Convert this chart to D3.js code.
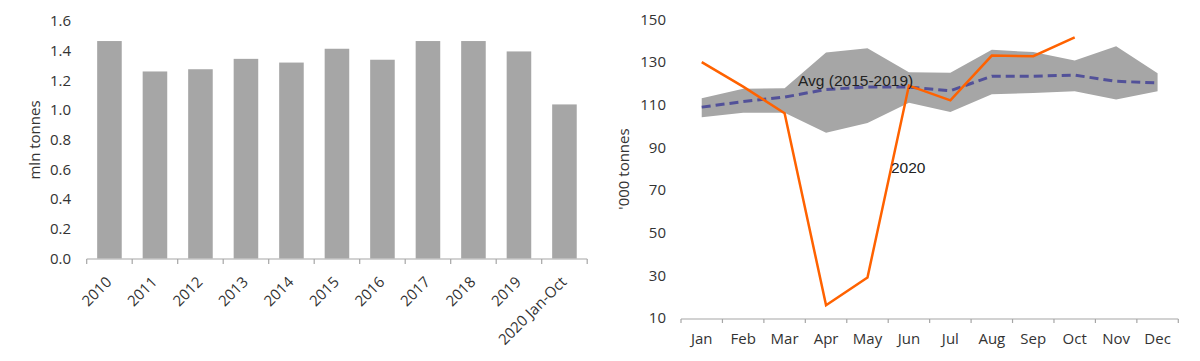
<!DOCTYPE html>
<html>
<head>
<meta charset="utf-8">
<script src="https://cdn.jsdelivr.net/npm/d3@7"></script>
<style>
  html, body { margin: 0; padding: 0; background: #fff; }
  svg { display: block; }
  text { font-family: "Open Sans", Lato, "Noto Sans", sans-serif; fill: #333; }
</style>
</head>
<body>
<svg id="chart" width="1200" height="361"></svg>
<script>
// ---- Left chart data ----
const years = ["2010","2011","2012","2013","2014","2015","2016","2017","2018","2019","2020 Jan-Oct"];
const annualVolumes = [1.465, 1.26, 1.275, 1.345, 1.32, 1.413, 1.339, 1.465, 1.465, 1.395, 1.038];
const leftTicks = [0, 0.2, 0.4, 0.6, 0.8, 1.0, 1.2, 1.4, 1.6];

// ---- Right chart data ----
const months = ["Jan","Feb","Mar","Apr","May","Jun","Jul","Aug","Sep","Oct","Nov","Dec"];
const rangeMax = [113.1, 117.5, 117.8, 134.5, 136.5, 125.3, 125.0, 135.8, 134.7, 130.8, 137.5, 124.8];
const rangeMin = [104.2, 106.3, 106.3, 96.9, 101.4, 111.0, 106.6, 115.0, 115.5, 116.3, 112.5, 116.4];
const avg2015_2019 = [108.9, 111.5, 113.6, 117.2, 118.3, 118.3, 116.6, 123.4, 123.4, 123.9, 121.0, 120.3];
const vol2020 = [130, 118.5, 106, 16, 29, 119, 112.1, 133.1, 132.8, 141.6];
const rightTicks = [10, 30, 50, 70, 90, 110, 130, 150];

const svg = d3.select("#chart");
const axisColor = "#a6a6a6";
const gray = "#a6a6a6";
const fs = "15px";

// ===== Left bar chart =====
const xL = d3.scaleBand().domain(years).range([86.7, 587.2]).paddingInner(0.46).paddingOuter(0.23);
const yL = d3.scaleLinear().domain([0, 1.6]).range([258.5, 21]);

const gL = svg.append("g");
gL.selectAll("rect.bar").data(years).join("rect")
  .attr("class", "bar")
  .attr("x", d => xL(d))
  .attr("width", xL.bandwidth())
  .attr("y", (d, i) => yL(annualVolumes[i]))
  .attr("height", (d, i) => yL(0) - yL(annualVolumes[i]))
  .attr("fill", gray);

gL.selectAll("text.ytick").data(leftTicks).join("text")
  .attr("class", "ytick")
  .attr("x", 71)
  .attr("y", d => yL(d))
  .attr("dy", "0.35em")
  .attr("text-anchor", "end")
  .style("font-size", fs)
  .text(d => d3.format(".1f")(d));

const x0L = xL.range()[0];
const stepEdge = (xL.range()[1] - x0L) / years.length;
gL.append("line")
  .attr("x1", x0L).attr("x2", xL.range()[1])
  .attr("y1", 259).attr("y2", 259)
  .attr("stroke", axisColor).attr("stroke-width", 1.2);
gL.selectAll("line.xt").data(d3.range(years.length + 1)).join("line")
  .attr("class", "xt")
  .attr("x1", i => x0L + i * stepEdge)
  .attr("x2", i => x0L + i * stepEdge)
  .attr("y1", 259).attr("y2", 264)
  .attr("stroke", axisColor).attr("stroke-width", 1.2);

gL.selectAll("text.xlab").data(years).join("text")
  .attr("class", "xlab")
  .attr("text-anchor", "end")
  .style("font-size", fs)
  .attr("transform", d => `translate(${xL(d) + xL.bandwidth() / 2 + 3},${283}) rotate(-45)`)
  .text(d => d);

gL.append("text")
  .attr("transform", "translate(40,140) rotate(-90)")
  .attr("text-anchor", "middle")
  .style("font-size", fs)
  .text("mln tonnes");

// ===== Right line chart =====
const xR = d3.scaleBand().domain(months).range([681, 1178.3]);
const yR = d3.scaleLinear().domain([10, 150]).range([318, 19.5]);
const cx = d => xR(d) + xR.bandwidth() / 2;

const gR = svg.append("g");

const area = d3.area()
  .x((d, i) => cx(months[i]))
  .y0((d, i) => yR(rangeMin[i]))
  .y1(d => yR(d));
gR.append("path").datum(rangeMax).attr("d", area).attr("fill", gray);

const lineM = d3.line().x((d, i) => cx(months[i])).y(d => yR(d));
gR.append("path").datum(avg2015_2019).attr("d", lineM)
  .attr("fill", "none").attr("stroke", "#525199").attr("stroke-width", 3)
  .attr("stroke-dasharray", "9,5");

gR.append("path").datum(vol2020).attr("d", lineM)
  .attr("fill", "none").attr("stroke", "#ff6200").attr("stroke-width", 2.5)
  .attr("stroke-linejoin", "miter");

gR.selectAll("text.ytick").data(rightTicks).join("text")
  .attr("class", "ytick")
  .attr("x", 666)
  .attr("y", d => yR(d))
  .attr("dy", "0.35em")
  .attr("text-anchor", "end")
  .style("font-size", fs)
  .text(d => d);

gR.append("line")
  .attr("x1", 681).attr("x2", 1178.3)
  .attr("y1", 319).attr("y2", 319)
  .attr("stroke", axisColor).attr("stroke-width", 1.2);
gR.selectAll("line.xt").data(d3.range(months.length + 1)).join("line")
  .attr("class", "xt")
  .attr("x1", i => 681 + i * xR.step())
  .attr("x2", i => 681 + i * xR.step())
  .attr("y1", 319).attr("y2", 323)
  .attr("stroke", axisColor).attr("stroke-width", 1.2);

gR.selectAll("text.xlab").data(months).join("text")
  .attr("class", "xlab")
  .attr("x", d => cx(d))
  .attr("y", 344)
  .attr("text-anchor", "middle")
  .style("font-size", fs)
  .text(d => d);

gR.append("text")
  .attr("transform", "translate(629,169) rotate(-90)")
  .attr("text-anchor", "middle")
  .style("font-size", fs)
  .text("'000 tonnes");

gR.append("text")
  .attr("x", 798).attr("y", 86)
  .style("font-family", "'Liberation Sans', Arial, sans-serif")
  .style("font-size", "15.5px")
  .style("fill", "#222")
  .text("Avg (2015-2019)");
gR.append("text")
  .attr("x", 891).attr("y", 173)
  .style("font-family", "'Liberation Sans', Arial, sans-serif")
  .style("font-size", "15.5px")
  .style("fill", "#222")
  .text("2020");
</script>
</body>
</html>
